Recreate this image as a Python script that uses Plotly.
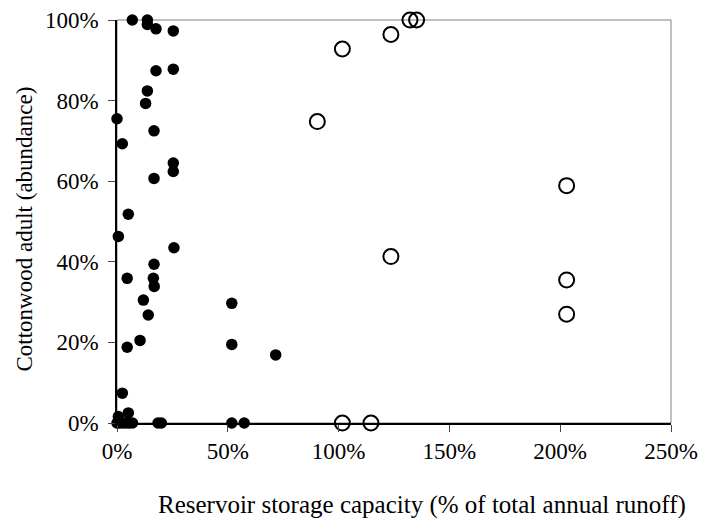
import plotly.graph_objects as go

# Reservoir storage capacity (% of annual runoff) vs cottonwood adult abundance (%)
filled_x = [6.9, 13.7, 13.7, 17.6, 25.4, 17.6, 25.4, 13.7, 12.9, 0.0, 16.7, 2.4,
            25.4, 25.4, 16.7, 5.1, 0.6, 25.7, 16.7, 4.6, 16.4, 16.8, 11.9, 14.1,
            51.8, 10.4, 4.6, 51.8, 71.6, 2.4, 5.1, 0.6,
            0.0, 1.0, 2.5, 4.0, 5.5, 7.0, 18.5, 20.0, 51.8, 57.4]
filled_y = [100, 100, 98.9, 97.8, 97.3, 87.4, 87.8, 82.4, 79.3, 75.5, 72.5, 69.3,
            64.5, 62.4, 60.7, 51.8, 46.3, 43.5, 39.4, 35.9, 35.9, 33.9, 30.5, 26.8,
            29.7, 20.5, 18.8, 19.5, 16.9, 7.4, 2.5, 1.6,
            0, 0, 0, 0, 0, 0, 0, 0, 0, 0]

open_x = [132.2, 135.2, 123.6, 101.7, 90.4, 202.9, 123.6, 202.9, 202.9, 101.7, 114.6]
open_y = [100, 100, 96.4, 92.8, 74.8, 58.9, 41.3, 35.5, 27.0, 0, 0]

x_ticks = [0, 50, 100, 150, 200, 250]
y_ticks = [0, 20, 40, 60, 80, 100]
x_tick_labels = [f"{v}%" for v in x_ticks]
y_tick_labels = [f"{v}%" for v in y_ticks]

x_title = "Reservoir storage capacity (% of total annual runoff)"
y_title = "Cottonwood adult (abundance)"

font_family = "'Liberation Serif', 'Times New Roman', 'DejaVu Serif', serif"

fig = go.Figure()

fig.add_trace(go.Scatter(
    x=filled_x, y=filled_y, mode="markers", cliponaxis=False,
    marker=dict(symbol="circle", size=11.5, color="black"),
    showlegend=False,
))
fig.add_trace(go.Scatter(
    x=open_x, y=open_y, mode="markers", cliponaxis=False,
    marker=dict(symbol="circle-open", size=15, color="black", line=dict(width=2)),
    showlegend=False,
))

# grey frame along the top and right of the plot area
fig.add_shape(type="rect", xref="paper", yref="paper", x0=0, y0=0, x1=1, y1=1,
              line=dict(color="#808080", width=1), layer="below")

# axis titles as annotations, offset from the plot area in pixels
fig.add_annotation(text=x_title, xref="paper", yref="paper",
                   x=0.5, y=-0.203, xanchor="center", yanchor="middle",
                   xshift=28, showarrow=False,
                   font=dict(size=25, family=font_family, color="black"))
fig.add_annotation(text=y_title, xref="paper", yref="paper",
                   x=0, y=0.5, xanchor="center", yanchor="middle",
                   xshift=-93, yshift=-8, textangle=-90, showarrow=False,
                   font=dict(size=23, family=font_family, color="black"))

fig.update_layout(
    width=705, height=529,
    margin=dict(l=117, r=34, t=20, b=106, autoexpand=False),
    paper_bgcolor="white", plot_bgcolor="white",
    font=dict(family=font_family, color="black", size=23),
)

fig.update_xaxes(
    range=[0, 250], tickmode="array", tickvals=x_ticks, ticktext=x_tick_labels,
    automargin=False, showgrid=False, zeroline=False,
    showline=True, linecolor="black", linewidth=1.5,
    ticks="outside", ticklen=7, tickcolor="#444", tickwidth=1,
    tickfont=dict(size=23, family=font_family, color="black"),
)
fig.update_yaxes(
    range=[0, 100], tickmode="array", tickvals=y_ticks, ticktext=y_tick_labels,
    automargin=False, showgrid=False, zeroline=False,
    showline=True, linecolor="black", linewidth=1.5,
    ticks="outside", ticklen=7, tickcolor="#444", tickwidth=1,
    ticklabelstandoff=5,
    tickfont=dict(size=23, family=font_family, color="black"),
)

fig.write_html("out.html")
